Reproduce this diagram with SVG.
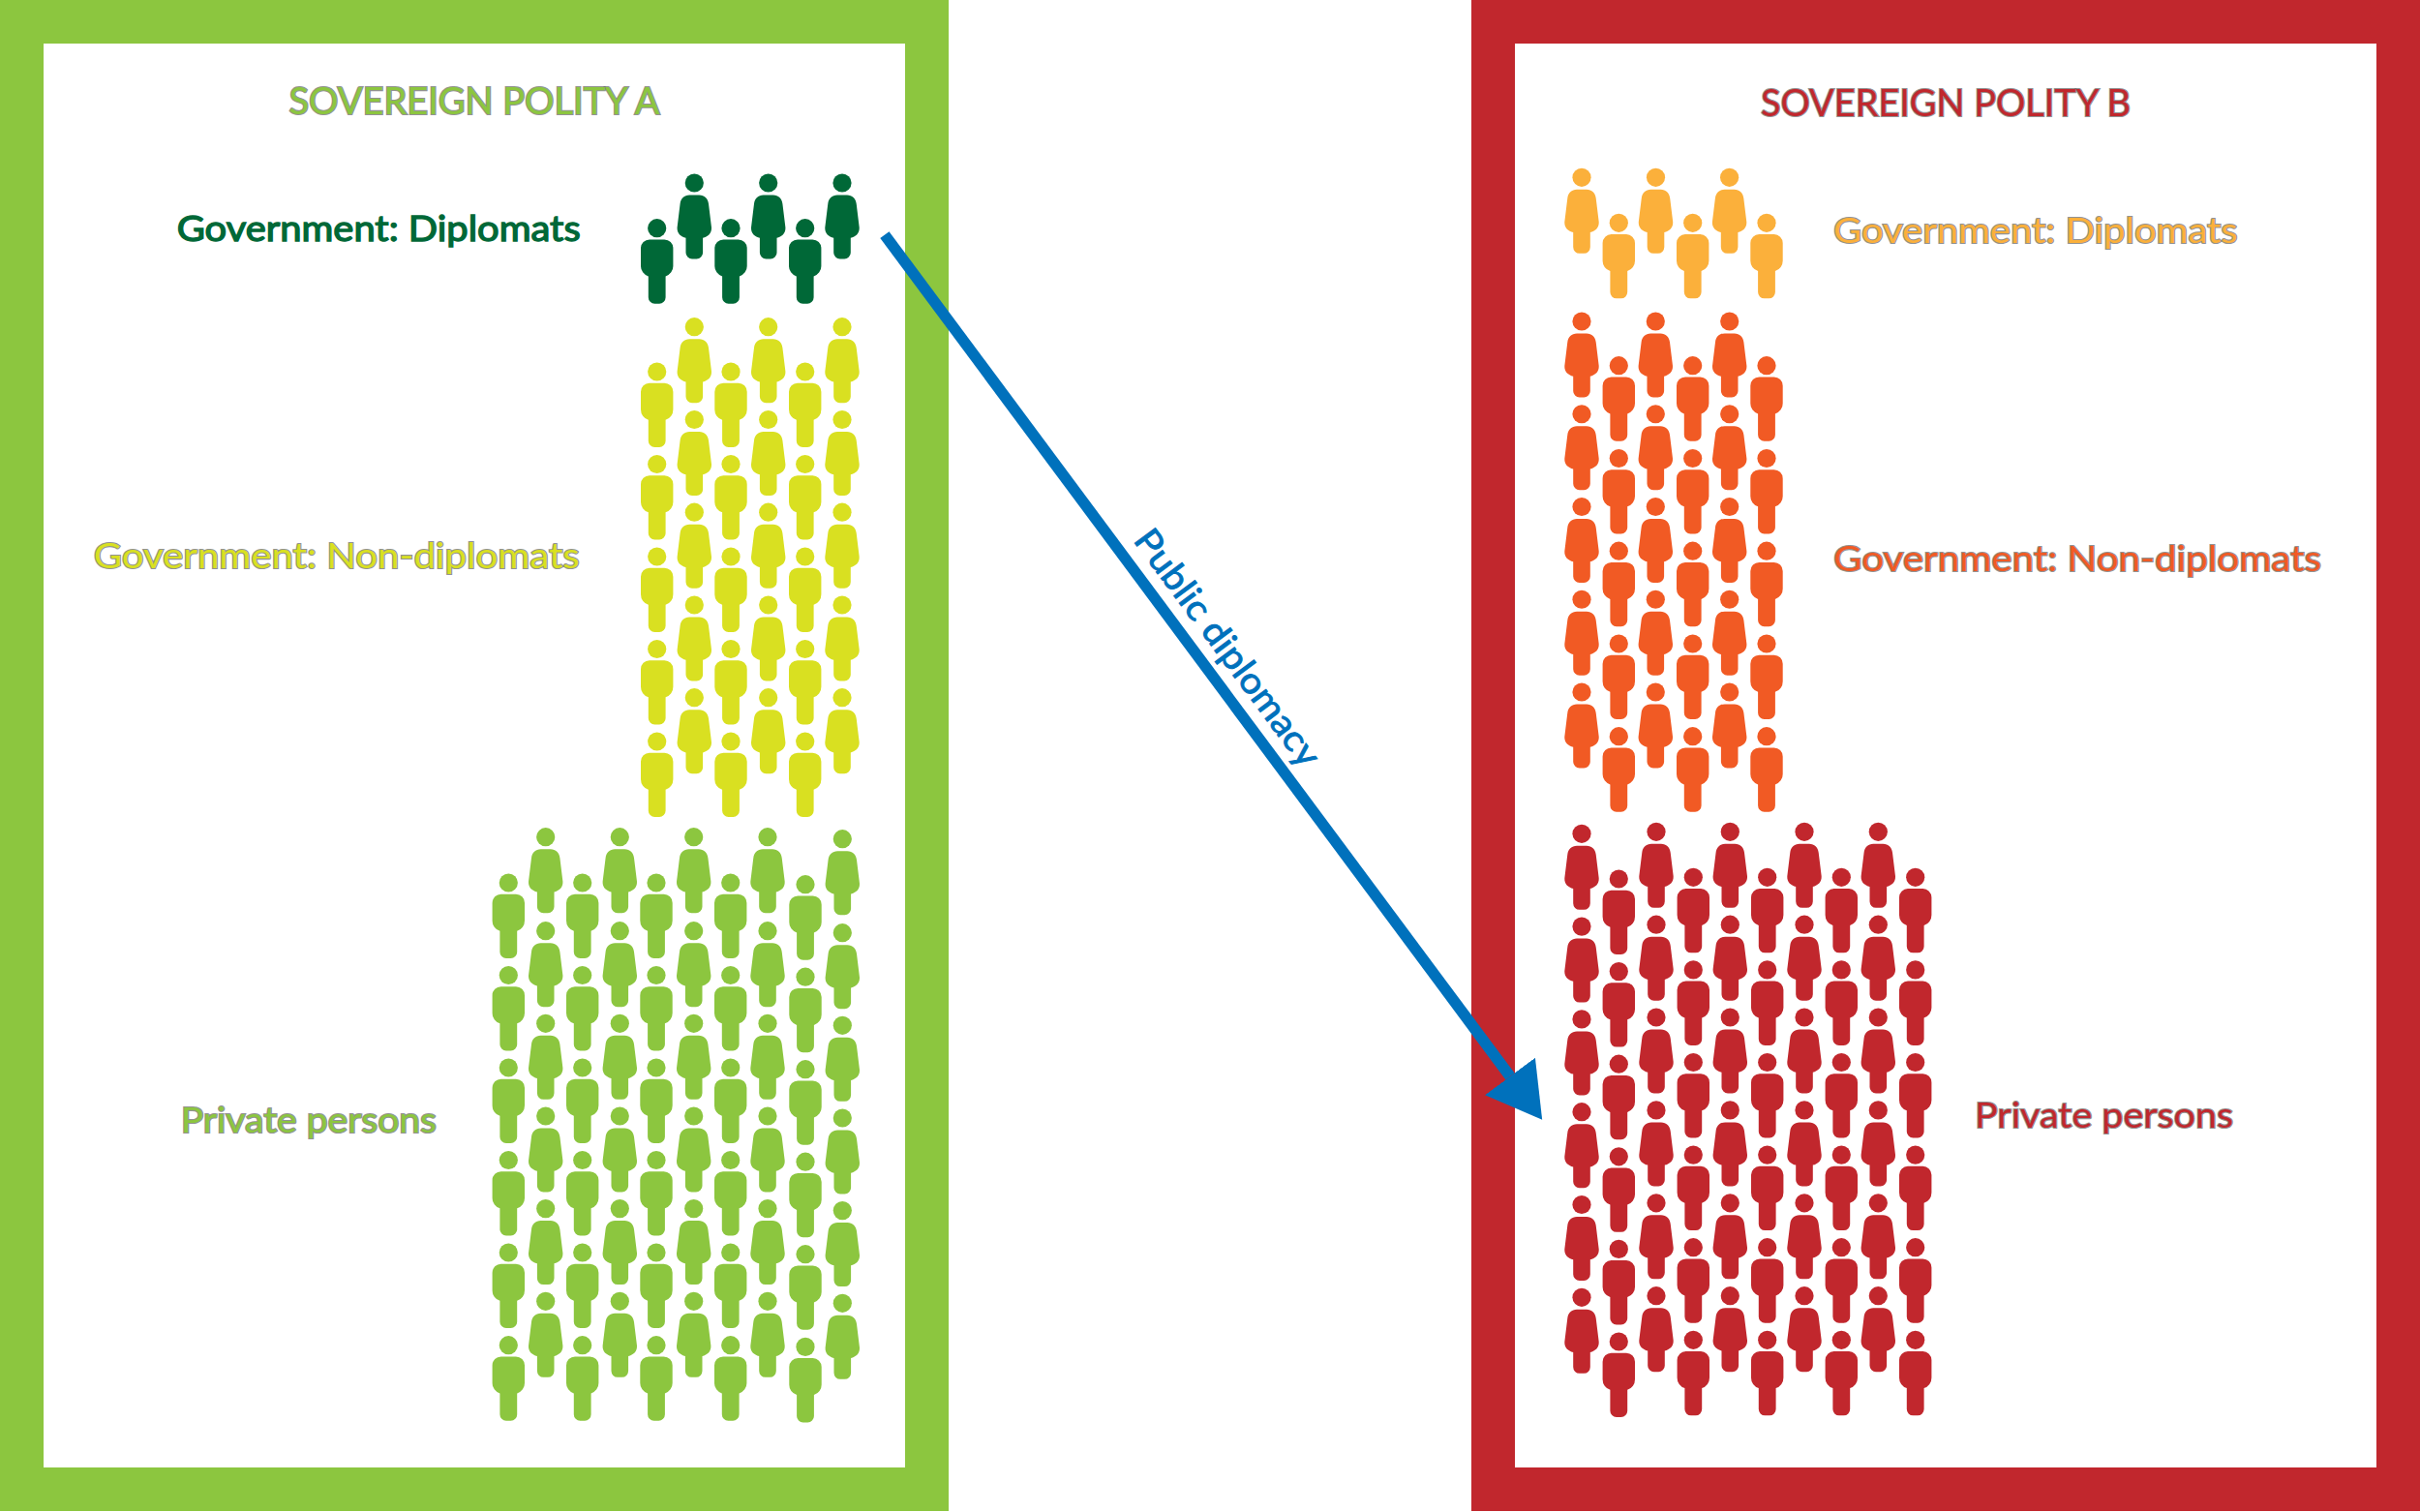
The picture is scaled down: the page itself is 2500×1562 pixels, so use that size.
<svg xmlns="http://www.w3.org/2000/svg" width="2500" height="1562" viewBox="0 0 2500 1562">
<style>
text{font-family:"Lato","Open Sans","Liberation Sans",sans-serif;font-size:37.5px;font-weight:400;stroke:#6e6e6e;stroke-opacity:.75;stroke-width:2.2px;paint-order:stroke}
.t{font-size:38.5px}
.dg{fill:#006837}.yl{fill:#d9e021}.lg{fill:#8cc63f}.oy{fill:#fbb03b}.or{fill:#f15a24}.rd{fill:#c1272d}
.dg text{stroke:#006837;stroke-opacity:1;stroke-width:1.4px}
.bl{fill:#0071bc;stroke:#0071bc;stroke-opacity:1;stroke-width:.9px;font-size:37px}
.frame{fill:#fff;stroke-width:45}
</style>
<defs>
<g id="m"><circle cx="0" cy="0" r="9.6"/><path d="M-7.7 11.7H7.7A9 9 0 0 1 16.7 20.7V39A11 11 0 0 1 8.9 49.7V71.5A6.500 6.500 0 0 1 2.400 78H-2.400A6.500 6.500 0 0 1-8.900 71.500V49.700A11 11 0 0 1-16.700 39V20.700A9 9 0 0 1-7.700 11.700Z"/></g>
<g id="f"><circle cx="0" cy="0" r="9.6"/><path d="M-5 12.5H5C10.500 12.500 14 16 14.700 21.500L17.700 46C18 52 14 55.500 8.800 56.700V72A6.500 6.500 0 0 1 2.300 78.500H-2.300A6.500 6.500 0 0 1-8.800 72V56.700C-14 55.500-18 52-17.700 46L-14.700 21.500C-14 16-10.500 12.500-5 12.500Z"/></g>
<marker id="head" markerUnits="userSpaceOnUse" markerWidth="56" markerHeight="66" viewBox="0 0 56 66" refX="0" refY="33" orient="auto"><path d="M0 .7L55.6 33L0 65.3Z" fill="#0071bc"/></marker>
</defs>
<g id="polity-a">
<rect x="22.500" y="22.500" width="935" height="1516" class="frame" stroke="#8cc63f"/>
<text class="t lg" x="298.500" y="118" textLength="383" lengthAdjust="spacingAndGlyphs">SOVEREIGN POLITY A</text>
</g>
<g id="polity-b">
<rect x="1542.500" y="22.500" width="935" height="1516" class="frame" stroke="#c1272d"/>
<text class="t rd" x="1819" y="120" textLength="382" lengthAdjust="spacingAndGlyphs">SOVEREIGN POLITY B</text>
</g>
<g id="a-diplomats" class="dg">
<text x="182.700" y="249" textLength="417" lengthAdjust="spacingAndGlyphs">Government: Diplomats</text>
<use href="#f" x="717.300" y="189"/><use href="#f" x="793.700" y="189"/><use href="#f" x="870" y="189"/>
<use href="#m" x="678.700" y="235.700"/><use href="#m" x="755" y="235.700"/><use href="#m" x="831.700" y="235.700"/>
</g>
<g id="a-non-diplomats" class="yl">
<text x="96.700" y="587.300" textLength="502" lengthAdjust="spacingAndGlyphs">Government: Non-diplomats</text>
<use href="#f" x="717.300" y="337.700"/><use href="#f" x="793.700" y="337.700"/><use href="#f" x="870" y="337.700"/>
<use href="#m" x="678.700" y="384"/><use href="#m" x="755" y="384"/><use href="#m" x="831.700" y="384"/>
<use href="#f" x="717.300" y="433.500"/><use href="#f" x="793.700" y="433.500"/><use href="#f" x="870" y="433.500"/>
<use href="#m" x="678.700" y="479.500"/><use href="#m" x="755" y="479.500"/><use href="#m" x="831.700" y="479.500"/>
<use href="#f" x="717.300" y="529.200"/><use href="#f" x="793.700" y="529.200"/><use href="#f" x="870" y="529.200"/>
<use href="#m" x="678.700" y="575"/><use href="#m" x="755" y="575"/><use href="#m" x="831.700" y="575"/>
<use href="#f" x="717.300" y="625"/><use href="#f" x="793.700" y="625"/><use href="#f" x="870" y="625"/>
<use href="#m" x="678.700" y="670.500"/><use href="#m" x="755" y="670.500"/><use href="#m" x="831.700" y="670.500"/>
<use href="#f" x="717.300" y="720.700"/><use href="#f" x="793.700" y="720.700"/><use href="#f" x="870" y="720.700"/>
<use href="#m" x="678.700" y="766"/><use href="#m" x="755" y="766"/><use href="#m" x="831.700" y="766"/>
</g>
<g id="a-private" class="lg">
<text x="186.700" y="1170" textLength="264.300" lengthAdjust="spacingAndGlyphs">Private persons</text>
<use href="#f" x="563.700" y="864.700"/><use href="#f" x="640.300" y="864.700"/><use href="#f" x="716.700" y="864.700"/><use href="#f" x="793" y="864.700"/><use href="#f" x="870.300" y="866.700"/>
<use href="#m" x="525.300" y="912"/><use href="#m" x="601.700" y="912"/><use href="#m" x="678" y="912"/><use href="#m" x="754.700" y="912"/><use href="#m" x="832" y="913.700"/>
<use href="#f" x="563.700" y="961.700"/><use href="#f" x="640.300" y="961.700"/><use href="#f" x="716.700" y="961.700"/><use href="#f" x="793" y="961.700"/><use href="#f" x="870.300" y="963.700"/>
<use href="#m" x="525.300" y="1007.500"/><use href="#m" x="601.700" y="1007.500"/><use href="#m" x="678" y="1007.500"/><use href="#m" x="754.700" y="1007.500"/><use href="#m" x="832" y="1009.200"/>
<use href="#f" x="563.700" y="1057.300"/><use href="#f" x="640.300" y="1057.300"/><use href="#f" x="716.700" y="1057.300"/><use href="#f" x="793" y="1057.300"/><use href="#f" x="870.300" y="1059.300"/>
<use href="#m" x="525.300" y="1103"/><use href="#m" x="601.700" y="1103"/><use href="#m" x="678" y="1103"/><use href="#m" x="754.700" y="1103"/><use href="#m" x="832" y="1104.700"/>
<use href="#f" x="563.700" y="1153"/><use href="#f" x="640.300" y="1153"/><use href="#f" x="716.700" y="1153"/><use href="#f" x="793" y="1153"/><use href="#f" x="870.300" y="1155"/>
<use href="#m" x="525.300" y="1198.500"/><use href="#m" x="601.700" y="1198.500"/><use href="#m" x="678" y="1198.500"/><use href="#m" x="754.700" y="1198.500"/><use href="#m" x="832" y="1200.200"/>
<use href="#f" x="563.700" y="1248.600"/><use href="#f" x="640.300" y="1248.600"/><use href="#f" x="716.700" y="1248.600"/><use href="#f" x="793" y="1248.600"/><use href="#f" x="870.300" y="1250.600"/>
<use href="#m" x="525.300" y="1294"/><use href="#m" x="601.700" y="1294"/><use href="#m" x="678" y="1294"/><use href="#m" x="754.700" y="1294"/><use href="#m" x="832" y="1295.700"/>
<use href="#f" x="563.700" y="1344.300"/><use href="#f" x="640.300" y="1344.300"/><use href="#f" x="716.700" y="1344.300"/><use href="#f" x="793" y="1344.300"/><use href="#f" x="870.300" y="1346.300"/>
<use href="#m" x="525.300" y="1389.700"/><use href="#m" x="601.700" y="1389.700"/><use href="#m" x="678" y="1389.700"/><use href="#m" x="754.700" y="1389.700"/><use href="#m" x="832" y="1391.400"/>
</g>
<g id="b-diplomats" class="oy">
<text x="1894" y="250.700" textLength="417.600" lengthAdjust="spacingAndGlyphs">Government: Diplomats</text>
<use href="#f" x="1634" y="183.300"/><use href="#f" x="1710.500" y="183.300"/><use href="#f" x="1786.600" y="183.300"/>
<use href="#m" x="1672.300" y="230.300"/><use href="#m" x="1748.700" y="230.300"/><use href="#m" x="1825" y="230.300"/>
</g>
<g id="b-non-diplomats" class="or">
<text x="1894" y="590" textLength="504" lengthAdjust="spacingAndGlyphs">Government: Non-diplomats</text>
<use href="#f" x="1634" y="332"/><use href="#f" x="1710.300" y="332"/><use href="#f" x="1786.700" y="332"/>
<use href="#m" x="1672.300" y="377.700"/><use href="#m" x="1748.700" y="377.700"/><use href="#m" x="1825" y="377.700"/>
<use href="#f" x="1634" y="427.750"/><use href="#f" x="1710.300" y="427.750"/><use href="#f" x="1786.700" y="427.750"/>
<use href="#m" x="1672.300" y="473.500"/><use href="#m" x="1748.700" y="473.500"/><use href="#m" x="1825" y="473.500"/>
<use href="#f" x="1634" y="523.500"/><use href="#f" x="1710.300" y="523.500"/><use href="#f" x="1786.700" y="523.500"/>
<use href="#m" x="1672.300" y="569.200"/><use href="#m" x="1748.700" y="569.200"/><use href="#m" x="1825" y="569.200"/>
<use href="#f" x="1634" y="619.250"/><use href="#f" x="1710.300" y="619.250"/><use href="#f" x="1786.700" y="619.250"/>
<use href="#m" x="1672.300" y="665"/><use href="#m" x="1748.700" y="665"/><use href="#m" x="1825" y="665"/>
<use href="#f" x="1634" y="715"/><use href="#f" x="1710.300" y="715"/><use href="#f" x="1786.700" y="715"/>
<use href="#m" x="1672.300" y="760.700"/><use href="#m" x="1748.700" y="760.700"/><use href="#m" x="1825" y="760.700"/>
</g>
<g id="b-private" class="rd">
<text x="2040" y="1165" textLength="267" lengthAdjust="spacingAndGlyphs">Private persons</text>
<use href="#f" x="1634" y="861.300"/><use href="#f" x="1711" y="859.300"/><use href="#f" x="1787.300" y="859.300"/><use href="#f" x="1864" y="859.300"/><use href="#f" x="1940.300" y="859.300"/>
<use href="#m" x="1672.300" y="908"/><use href="#m" x="1749.300" y="906.300"/><use href="#m" x="1825.700" y="906.300"/><use href="#m" x="1902.300" y="906.300"/><use href="#m" x="1978.700" y="906.300"/>
<use href="#f" x="1634" y="957.100"/><use href="#f" x="1711" y="955.200"/><use href="#f" x="1787.300" y="955.200"/><use href="#f" x="1864" y="955.200"/><use href="#f" x="1940.300" y="955.200"/>
<use href="#m" x="1672.300" y="1003.600"/><use href="#m" x="1749.300" y="1001.900"/><use href="#m" x="1825.700" y="1001.900"/><use href="#m" x="1902.300" y="1001.900"/><use href="#m" x="1978.700" y="1001.900"/>
<use href="#f" x="1634" y="1052.900"/><use href="#f" x="1711" y="1051"/><use href="#f" x="1787.300" y="1051"/><use href="#f" x="1864" y="1051"/><use href="#f" x="1940.300" y="1051"/>
<use href="#m" x="1672.300" y="1099.200"/><use href="#m" x="1749.300" y="1097.500"/><use href="#m" x="1825.700" y="1097.500"/><use href="#m" x="1902.300" y="1097.500"/><use href="#m" x="1978.700" y="1097.500"/>
<use href="#f" x="1634" y="1148.700"/><use href="#f" x="1711" y="1146.900"/><use href="#f" x="1787.300" y="1146.900"/><use href="#f" x="1864" y="1146.900"/><use href="#f" x="1940.300" y="1146.900"/>
<use href="#m" x="1672.300" y="1194.800"/><use href="#m" x="1749.300" y="1193.100"/><use href="#m" x="1825.700" y="1193.100"/><use href="#m" x="1902.300" y="1193.100"/><use href="#m" x="1978.700" y="1193.100"/>
<use href="#f" x="1634" y="1244.500"/><use href="#f" x="1711" y="1242.800"/><use href="#f" x="1787.300" y="1242.800"/><use href="#f" x="1864" y="1242.800"/><use href="#f" x="1940.300" y="1242.800"/>
<use href="#m" x="1672.300" y="1290.400"/><use href="#m" x="1749.300" y="1288.700"/><use href="#m" x="1825.700" y="1288.700"/><use href="#m" x="1902.300" y="1288.700"/><use href="#m" x="1978.700" y="1288.700"/>
<use href="#f" x="1634" y="1340.300"/><use href="#f" x="1711" y="1338.700"/><use href="#f" x="1787.300" y="1338.700"/><use href="#f" x="1864" y="1338.700"/><use href="#f" x="1940.300" y="1338.700"/>
<use href="#m" x="1672.300" y="1386"/><use href="#m" x="1749.300" y="1384.300"/><use href="#m" x="1825.700" y="1384.300"/><use href="#m" x="1902.300" y="1384.300"/><use href="#m" x="1978.700" y="1384.300"/>
</g>
<g id="connectors">
<line x1="913.900" y1="242.600" x2="1560" y2="1112" stroke="#0071bc" stroke-width="11.500" marker-end="url(#head)"/>
<text class="bl" transform="translate(1170 558.300) rotate(53.400)" textLength="295" lengthAdjust="spacingAndGlyphs">Public diplomacy</text>
</g>
</svg>
